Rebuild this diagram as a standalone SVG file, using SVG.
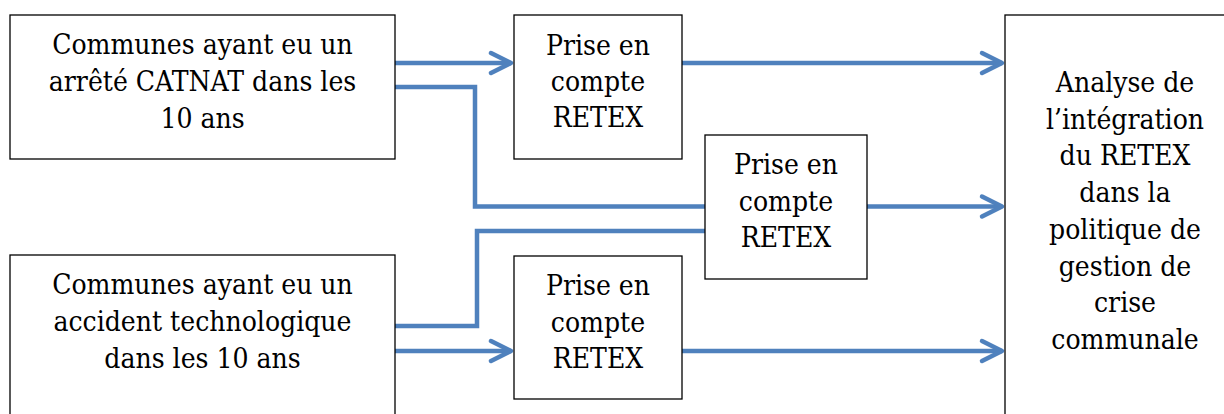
<svg xmlns="http://www.w3.org/2000/svg" width="1224" height="414" viewBox="0 0 1224 414">
  <style>
    .box { fill: #ffffff; stroke: #000000; stroke-width: 1.3; }
    .lbl { font-family: "DejaVu Serif Condensed", "DejaVu Serif", serif; font-stretch: condensed; font-size: 28px; fill: #000000; text-anchor: middle; }
    .conn { fill: none; stroke: #4F81BD; stroke-width: 4.5; }
  </style>
  <defs>
    <marker id="arrow" markerUnits="userSpaceOnUse" refX="0" refY="0" markerWidth="30" markerHeight="30" orient="auto" overflow="visible">
      <path d="M-20,-10 L0,0 L-20,10" fill="none" stroke="#4F81BD" stroke-width="4.5" stroke-linejoin="round" stroke-linecap="round"/>
    </marker>
  </defs>
  <rect width="1224" height="414" fill="#ffffff"/>

  <g id="connectors">
    <path class="conn" d="M395,63 H511" marker-end="url(#arrow)"/>
    <path class="conn" d="M682,63 H1002" marker-end="url(#arrow)"/>
    <path class="conn" d="M395,87 H475 V206.5 H705"/>
    <path class="conn" d="M395,326 H477 V231 H705"/>
    <path class="conn" d="M867,206.5 H1002" marker-end="url(#arrow)"/>
    <path class="conn" d="M395,351 H511" marker-end="url(#arrow)"/>
    <path class="conn" d="M682,351 H1002" marker-end="url(#arrow)"/>
  </g>

  <g id="catnat">
    <rect class="box" x="10" y="15" width="385" height="144"/>
    <text class="lbl"><tspan x="202.5" y="54">Communes ayant eu un</tspan><tspan x="202.5" y="91">arrêté CATNAT dans les</tspan><tspan x="202.5" y="128">10 ans</tspan></text>
  </g>

  <g id="retex-top">
    <rect class="box" x="514" y="15" width="168" height="144"/>
    <text class="lbl"><tspan x="598" y="55">Prise en</tspan><tspan x="598" y="91">compte</tspan><tspan x="598" y="127">RETEX</tspan></text>
  </g>

  <g id="retex-middle">
    <rect class="box" x="705" y="135" width="162" height="144"/>
    <text class="lbl"><tspan x="786" y="174">Prise en</tspan><tspan x="786" y="211">compte</tspan><tspan x="786" y="247">RETEX</tspan></text>
  </g>

  <g id="techno">
    <rect class="box" x="10" y="255" width="385" height="200"/>
    <text class="lbl"><tspan x="202.5" y="294">Communes ayant eu un</tspan><tspan x="202.5" y="331">accident technologique</tspan><tspan x="202.5" y="368">dans les 10 ans</tspan></text>
  </g>

  <g id="retex-bottom">
    <rect class="box" x="514" y="256" width="168" height="143"/>
    <text class="lbl"><tspan x="598" y="295">Prise en</tspan><tspan x="598" y="332">compte</tspan><tspan x="598" y="368">RETEX</tspan></text>
  </g>

  <g id="analyse">
    <rect class="box" x="1005" y="15" width="260" height="450"/>
    <text class="lbl"><tspan x="1125" y="92">Analyse de</tspan><tspan x="1125" y="128.5">l’intégration</tspan><tspan x="1125" y="165">du RETEX</tspan><tspan x="1125" y="202">dans la</tspan><tspan x="1125" y="239">politique de</tspan><tspan x="1125" y="276">gestion de</tspan><tspan x="1125" y="312">crise</tspan><tspan x="1125" y="349">communale</tspan></text>
  </g>
</svg>
